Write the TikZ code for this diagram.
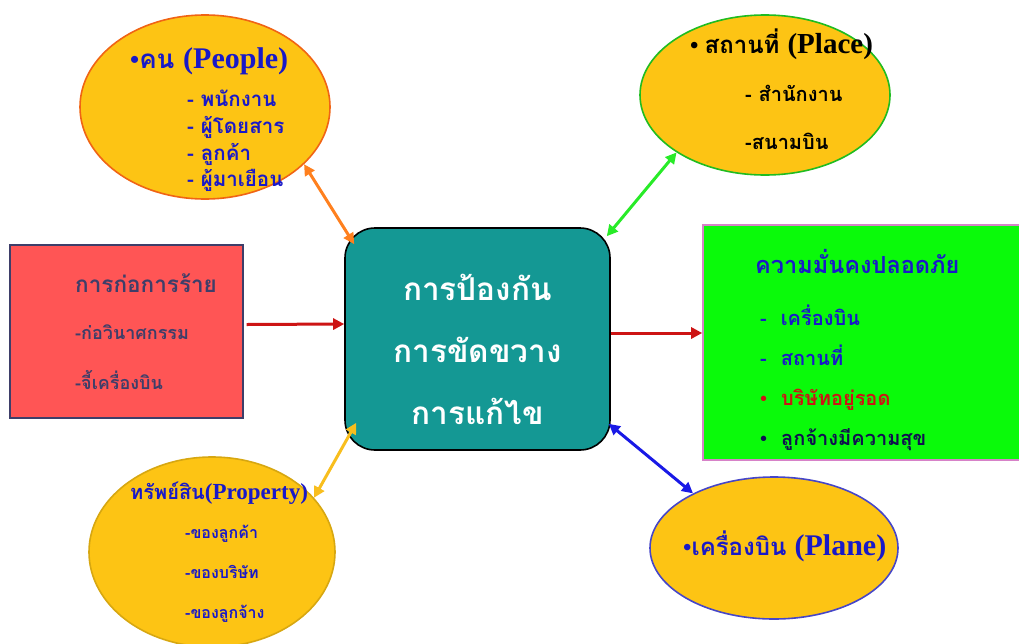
\documentclass[tikz,border=0pt]{standalone}
\usepackage{fontspec}
\setmainfont{Liberation Serif}
\newfontfamily\thai[Script=Thai]{Loma}
\newfontfamily\latn{Liberation Serif}
\usetikzlibrary{shapes.geometric,calc,arrows.meta}

\definecolor{gold}{RGB}{253,196,20}
\definecolor{txtblue}{RGB}{25,25,200}
\definecolor{slate}{RGB}{62,62,105}
\definecolor{navy}{RGB}{16,16,80}
\definecolor{darkred}{RGB}{205,20,20}
\definecolor{teal}{RGB}{20,152,148}
\definecolor{redbox}{RGB}{255,85,85}
\definecolor{greenbox}{RGB}{10,250,10}
\definecolor{pinkline}{RGB}{215,130,200}
\definecolor{orangeline}{RGB}{240,100,20}
\definecolor{arrorange}{RGB}{255,128,30}
\definecolor{arrgreen}{RGB}{40,235,40}
\definecolor{arryellow}{RGB}{248,190,30}
\definecolor{arrblue}{RGB}{25,25,230}
\definecolor{arrred}{RGB}{205,20,20}
\definecolor{ellblue}{RGB}{70,70,200}

\tikzset{
  blob/.style={ellipse, fill=gold, line width=1.6pt, inner sep=0pt},
  th/.style={font=\thai\bfseries\fontsize{#1}{#1}\selectfont, inner sep=0pt, anchor=base west},
  link/.style={line width=3pt, -{Triangle[length=11pt,width=11pt]}},
  dlink/.style={line width=3pt, {Triangle[length=11pt,width=11pt]}-{Triangle[length=11pt,width=11pt]}}
}

\begin{document}
\begin{tikzpicture}[x=1pt,y=-1pt]
\useasboundingbox (0,0) rectangle (1019,643);

% shapes
\node[blob, draw=orangeline, minimum width=250, minimum height=184] (people) at (205,107) {};
\node[blob, draw=arrgreen!80!black, minimum width=250, minimum height=160] (place) at (765,95) {};
\node[blob, draw=gold!85!black, minimum width=246, minimum height=190] (property) at (212,552) {};
\node[blob, draw=ellblue, minimum width=248, minimum height=142] (plane) at (774,548) {};

\node[rectangle, fill=redbox, draw=slate, line width=1.4pt, minimum width=233, minimum height=173, inner sep=0pt] (terror) at (126.5,331.5) {};
\node[rectangle, rounded corners=30pt, fill=teal, draw=black, line width=1.6pt, minimum width=265, minimum height=222, inner sep=0pt] (core) at (477.5,339) {};
\node[rectangle, fill=greenbox, draw=pinkline, line width=1.6pt, minimum width=320, minimum height=235, inner sep=0pt] (safety) at (863,342.5) {};

% people
\node[th=26, text=txtblue] (p0) at (130,68) {\latn\bfseries •\thai คน \latn\fontsize{30}{30}\selectfont(People)};
\node[th=20.5, text=txtblue] (p1) at (187,106) {- พนักงาน};
\node[th=20.5, text=txtblue] (p2) at (187,133) {- ผู้โดยสาร};
\node[th=20.5, text=txtblue] (p3) at (187,160) {- ลูกค้า};
\node[th=20.5, text=txtblue] (p4) at (187,186) {- ผู้มาเยือน};

% place
\node[th=24, text=black] (q0) at (690,53) {\latn\bfseries • \thai สถานที่ \latn\fontsize{29}{29}\selectfont(Place)};
\node[th=20, text=black] (q1) at (745,101) {- สำนักงาน};
\node[th=20, text=black] (q2) at (745,149) {-สนามบิน};

% terrorism
\node[th=22.5, text=slate] (t0) at (75,292) {การก่อการร้าย};
\node[th=18, text=slate] (t1) at (75,339) {-ก่อวินาศกรรม};
\node[th=18, text=slate] (t2) at (75,389) {-จี้เครื่องบิน};

% core
\node[font=\thai\bfseries\fontsize{31.5}{62}\selectfont, text=white, align=center] (c0) at (477.5,349) {การป้องกัน\\การขัดขวาง\\การแก้ไข};

% safety
\node[th=23.5, text=txtblue] (s0) at (755,273) {ความมั่นคงปลอดภัย};
\node[th=20, text=txtblue] (s1) at (760,325) {-\hspace{14pt}เครื่องบิน};
\node[th=20, text=txtblue] (s2) at (760,365) {-\hspace{14pt}สถานที่};
\node[th=20, text=darkred] (s3) at (760,405) {\latn•\hspace{14pt}\thai บริษัทอยู่รอด};
\node[th=20, text=navy] (s4) at (760,445) {\latn•\hspace{14pt}\thai ลูกจ้างมีความสุข};

% property
\node[th=20, text=txtblue] (r0) at (130,499) {ทรัพย์สิน\latn\fontsize{23}{23}\selectfont(Property)};
\node[th=16, text=txtblue] (r1) at (185,538) {-ของลูกค้า};
\node[th=16, text=txtblue] (r2) at (185,578) {-ของบริษัท};
\node[th=16, text=txtblue] (r3) at (185,618) {-ของลูกจ้าง};

% plane
\node[th=24, text=txtblue] (m0) at (683,555) {\latn\bfseries •\thai เครื่องบิน \latn\fontsize{30}{30}\selectfont(Plane)};

% connectors
\draw[dlink, arrorange] (people.-30) -- ($(core.north west)+(10,17)$);
\draw[dlink, arrgreen] (place.213) -- ($(core.north east)+(-4,9)$);
\draw[dlink, arryellow] (property.28) -- ($(core.south west)+(12,-28)$);
\draw[dlink, arrblue] (plane.146) -- ($(core.south east)+(-2,-27)$);
\draw[link, arrred] ($(terror.east)+(3,-7)$) -- ($(core.west)+(0,-15)$);
\draw[link, arrred] ($(core.east)+(0,-6)$) -- ($(safety.west)+(0,-9.5)$);
\end{tikzpicture}
\end{document}
